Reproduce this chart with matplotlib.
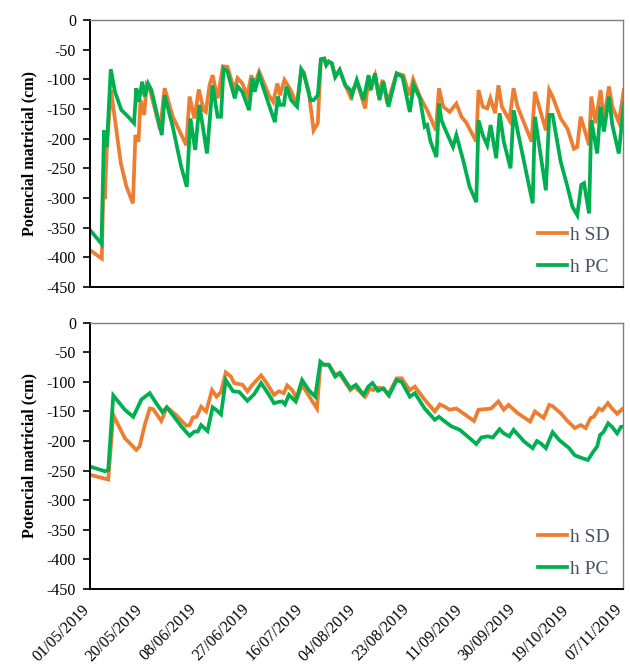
import numpy as np
import matplotlib
matplotlib.use("Agg")
import matplotlib.pyplot as plt
import matplotlib.transforms as mtransforms
import datetime as dt

plt.rcParams['font.family'] = ['Liberation Serif', 'DejaVu Serif']
plt.rcParams['axes.unicode_minus'] = False

START = dt.datetime(2019, 5, 1)

# ---- Top panel (days since 01/05/2019, value in cm) ----
top_sd_days = [0, 4.2, 4.8, 5.3, 6, 7.5, 11, 13, 15.3, 16.2, 17.3, 18, 19.3, 20.2, 21.5, 25, 26.6, 29.5, 34.3,
               35.5, 37.2, 38.8, 40.5, 41.3, 42.6, 43.7, 45.5, 47.4, 49, 51.4, 52.6, 54.3, 56.1, 57.5, 58.5, 60.3,
               63.8, 65.3, 66.8, 67.7, 69.3, 71.5, 73.8, 75.3, 76.2, 78, 79.7, 81.2, 82.3, 83.5, 84.2, 85.1, 86.2,
               87.4, 89, 91, 92.8, 95.1, 98.1, 99.3, 100, 101.6, 102.8, 104.3, 106, 109.3, 111.7, 113.8, 115.2,
               117.6, 120.5, 123.3, 124.4, 125.9, 128.2, 130.6, 132.4, 134, 137.7, 138.5, 140, 141.6, 142.7, 144.4,
               145.6, 146.8, 149.5, 151, 152.4, 157.4, 158.6, 162.5, 163.7, 164.9, 167.8, 170.2, 172.5, 173.7,
               174.9, 176.3, 177.9, 178.7, 180.2, 182, 183.2, 185, 186.2, 188.5, 190.3]
top_sd_vals = [-388, -402, -272, -302, -215, -118, -242, -281, -309, -194, -205, -135, -160, -110, -120, -185, -115,
               -163, -211, -129, -166, -117, -152, -155, -110, -93, -132, -78, -79, -118, -98, -107, -127, -93, -110,
               -87, -127, -138, -107, -127, -101, -118, -143, -84, -88, -121, -186, -174, -67, -65, -76, -70, -73,
               -96, -84, -110, -129, -104, -149, -96, -112, -93, -127, -101, -141, -90, -93, -127, -100, -129, -155,
               -186, -115, -146, -155, -141, -163, -172, -205, -118, -146, -149, -132, -157, -110, -146, -169, -115,
               -146, -205, -121, -186, -118, -129, -166, -183, -217, -214, -163, -185, -211, -129, -174, -118, -169,
               -112, -146, -172, -118]

top_pc_days = [0, 4.1, 5, 5.9, 6.3, 7.4, 8.9, 11.2, 13, 15.7, 16.5, 17.4, 18.6, 19.5, 20.7, 21.9, 25.6, 26.6, 29.5,
               32.5, 34.5, 35.8, 37.5, 39, 41.7, 43.7, 45.5, 46.7, 47.6, 49, 51.6, 52.6, 54.3, 56.7, 57.9, 58.7, 60.3,
               63.8, 65.9, 67, 67.7, 69.1, 70, 71.7, 73.8, 75.3, 76.2, 78.6, 79.7, 81.2, 82.3, 83.5, 84.2, 85.1, 86.2,
               87.4, 89, 91, 92.8, 93.4, 95.1, 97.5, 99.3, 100.1, 101.6, 103.2, 104.6, 106.4, 109.3, 111.4, 114, 115.4,
               117.6, 119.3, 120.2, 121.4, 123.5, 124.4, 125.3, 126.5, 129.4, 130.6, 133, 135.3, 137.7, 138.5, 140,
               141.6, 142.8, 144.8, 146, 147.5, 149.9, 151, 152.4, 157.8, 158.6, 162.5, 163.7, 164.9, 167.8, 170.2,
               172, 173.7, 175.1, 176.1, 177.9, 178.7, 180.8, 182, 183.2, 185, 186.2, 188.5, 190.3]
top_pc_vals = [-354, -377, -186, -214, -186, -83, -121, -152, -160, -174, -115, -138, -104, -129, -107, -118, -194,
               -127, -180, -247, -281, -166, -219, -143, -225, -110, -163, -163, -82, -87, -132, -112, -121, -152, -98,
               -121, -93, -143, -172, -129, -143, -143, -112, -135, -146, -83, -90, -135, -135, -127, -66, -65, -76,
               -70, -73, -96, -84, -110, -118, -127, -101, -135, -93, -118, -90, -135, -104, -146, -90, -96, -155,
               -110, -132, -180, -177, -205, -231, -141, -169, -183, -214, -194, -236, -281, -307, -169, -194, -211,
               -177, -233, -157, -205, -250, -152, -186, -309, -163, -287, -160, -160, -239, -281, -315, -329, -278,
               -275, -326, -169, -225, -146, -188, -129, -177, -225, -141]

# ---- Bottom panel ----
bot_sd_days = [0, 6.5, 8.3, 12.4, 16.5, 17.7, 19.5, 21.3, 22.5, 25.4, 27.4, 30.7, 34.3, 35.5, 36.7, 38, 39.6, 41.4,
               43.5, 45.1, 46.7, 48.4, 50.2, 51.4, 54.4, 56.1, 57.9, 61, 62.7, 65.6, 67.3, 69.1, 70.3, 72.1, 73.8,
               75.6, 78.6, 80.9, 82.1, 83.3, 85.1, 87.4, 88.8, 92.8, 94.3, 98.1, 99.8, 101, 102.6, 104.6, 106.3,
               109.3, 111.1, 114, 115.8, 119.3, 122.9, 124.7, 126.5, 128.2, 130.6, 133, 136.9, 138.5, 141.2, 143,
               145.6, 147.5, 149.2, 152.5, 156.9, 158.6, 161.7, 163.7, 164.9, 167.8, 170.2, 172.8, 174.9, 176.7,
               178.5, 179.6, 181.4, 182.6, 184.6, 186.1, 187.9, 189.7, 190.9]
bot_sd_vals = [-257, -265, -156, -195, -215, -209, -173, -145, -146, -166, -143, -156, -174, -173, -160, -159, -142,
               -150, -114, -125, -117, -84, -91, -102, -105, -116, -105, -89, -100, -122, -116, -119, -106, -114, -128,
               -105, -128, -145, -71, -71, -71, -88, -85, -114, -108, -125, -111, -114, -110, -111, -122, -94, -94,
               -114, -108, -130, -150, -138, -142, -147, -145, -153, -166, -147, -146, -145, -133, -147, -139, -153,
               -167, -150, -161, -139, -141, -153, -166, -178, -173, -178, -161, -159, -145, -148, -136, -145, -154,
               -146, -150]

bot_pc_days = [0, 5.3, 6.5, 8.3, 12.4, 15.4, 18.3, 21.3, 23.6, 25.8, 27.4, 29.5, 32.5, 35.5, 37.2, 38.4, 39.6, 41.9,
               43.7, 44.9, 46.7, 48.4, 51, 53.2, 56.1, 58.5, 61, 63.4, 65.6, 67.1, 68.5, 69.5, 70.9, 73.3, 75.6, 78,
               80.3, 82.1, 83.3, 85.1, 87.4, 89.2, 92.8, 94.8, 97.5, 99.2, 100.7, 102.6, 104.6, 106.6, 109.3, 111.1,
               114, 115.8, 119.3, 122.9, 124.4, 126.5, 128.8, 131.8, 135.3, 137.7, 139.5, 141.8, 143.6, 144.8, 146,
               147.5, 149.5, 151, 154.8, 157.8, 159.3, 160.7, 162.5, 164.9, 167.2, 170.8, 172.8, 175.5, 177.5, 179.4,
               180.8, 181.8, 183, 184.7, 186.1, 187.9, 189.3, 190.9]
bot_pc_vals = [-243, -251, -249, -123, -147, -159, -130, -119, -136, -151, -143, -156, -175, -191, -184, -184, -173,
               -183, -143, -147, -155, -97, -116, -117, -132, -121, -102, -119, -136, -134, -133, -138, -122, -133, -97,
               -114, -125, -66, -71, -71, -91, -85, -111, -105, -122, -108, -102, -115, -111, -123, -97, -100, -125,
               -119, -145, -164, -159, -167, -175, -181, -195, -205, -194, -192, -194, -187, -180, -187, -192, -181,
               -201, -212, -200, -204, -212, -185, -198, -212, -224, -229, -232, -218, -209, -190, -185, -170, -176,
               -187, -176, -175]

labels = ['h SD', 'h PC']
colors = ['#ED7D31', '#00B050']
ylabel = 'Potencial matricial (cm)'
tick_dates = ['01/05/2019', '20/05/2019', '08/06/2019', '27/06/2019', '16/07/2019', '04/08/2019',
              '23/08/2019', '11/09/2019', '30/09/2019', '19/10/2019', '07/11/2019']


def to_dates(days):
    return [START + dt.timedelta(days=float(d)) for d in days]


W, H = 630, 670
fig = plt.figure(figsize=(W / 100, H / 100), dpi=100)
ax1 = fig.add_axes([90 / W, 1 - 287 / H, 533 / W, 267 / H])
ax2 = fig.add_axes([90 / W, 1 - 589 / H, 533 / W, 266.3 / H])

xticks = [dt.datetime.strptime(s, '%d/%m/%Y') for s in tick_dates]

panels = [(ax1, top_sd_days, top_sd_vals, top_pc_days, top_pc_vals),
          (ax2, bot_sd_days, bot_sd_vals, bot_pc_days, bot_pc_vals)]
for ax, sdd, sdv, pcd, pcv in panels:
    ax.plot(to_dates(sdd), sdv, color=colors[0], lw=2.7, label=labels[0], solid_joinstyle='miter')
    ax.plot(to_dates(pcd), pcv, color=colors[1], lw=2.7, label=labels[1], solid_joinstyle='miter')
    ax.set_ylim(-450, 0)
    ax.set_yticks(np.arange(-450, 1, 50))
    ax.set_xlim(xticks[0], xticks[-1])
    ax.set_xticks(xticks)
    ax.set_ylabel(ylabel, fontsize=11.5, fontweight='bold', labelpad=7)
    ax.tick_params(axis='y', direction='out', length=5, width=1.2, labelsize=11.5, pad=5)
    ax.tick_params(axis='x', length=0, labelsize=11.5)
    for s in ['left', 'bottom']:
        ax.spines[s].set_color('black')
        ax.spines[s].set_linewidth(1.4)
    for s in ['top', 'right']:
        ax.spines[s].set_color('#7f7f7f')
        ax.spines[s].set_linewidth(1.0)
    leg = ax.legend(loc='lower right', bbox_to_anchor=(1.0, -0.01), frameon=False, fontsize=14,
                    handlelength=1.5, handletextpad=0.15, labelspacing=0.75, borderaxespad=0.3)
    for t in leg.get_texts():
        t.set_color('#44546A')

ax1.set_xticklabels([])
ax2.set_xticklabels(tick_dates, rotation=45, ha='right', va='center', rotation_mode='anchor')
ax2.tick_params(axis='x', pad=13)
shift = mtransforms.ScaledTranslation(-3 / 100, 0, fig.dpi_scale_trans)
for lbl in ax2.get_xticklabels():
    lbl.set_transform(lbl.get_transform() + shift)

fig.savefig('out.png', dpi=100)
